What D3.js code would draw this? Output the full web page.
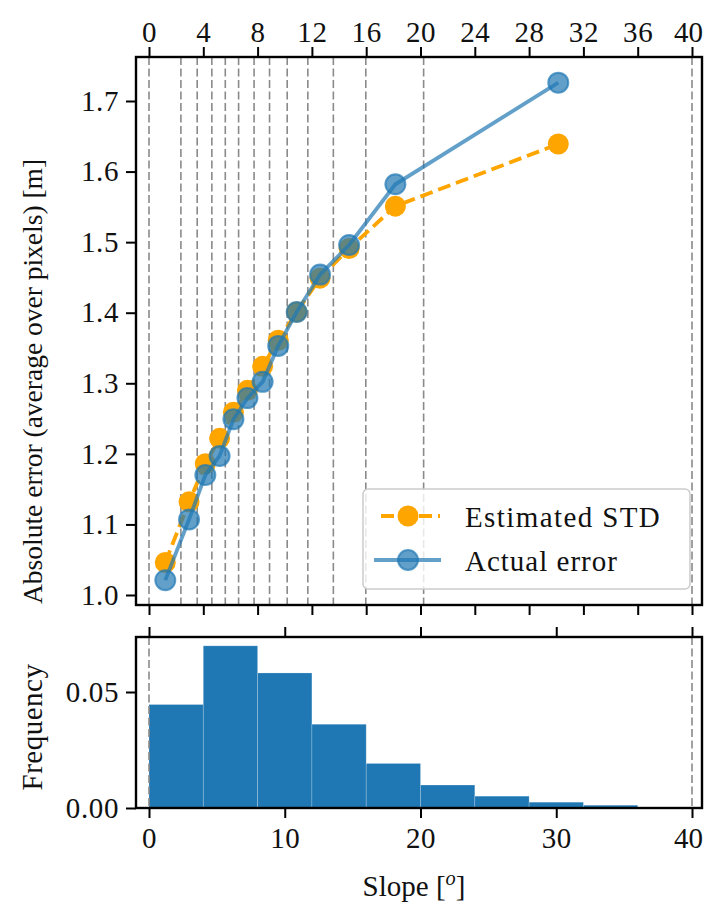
<!DOCTYPE html>
<html>
<head>
<meta charset="utf-8">
<script src="https://cdn.jsdelivr.net/npm/d3@7"></script>
<style>
  html, body { margin: 0; padding: 0; background: #fff; }
  svg { display: block; }
  text { font-family: "Liberation Serif", "DejaVu Serif", serif; fill: #111; }
</style>
</head>
<body>
<svg id="chart" width="705" height="907"></svg>
<script>
// ---------- DATA ----------
const slopeCenters  = [1.2, 2.95, 4.15, 5.2, 6.22, 7.25, 8.37, 9.52, 10.88, 12.6, 14.74, 18.15, 30.15];
const estimatedSTD  = [1.046, 1.132, 1.186, 1.222, 1.259, 1.290, 1.324, 1.361, 1.401, 1.449, 1.491, 1.551, 1.639];
const actualError   = [1.021, 1.107, 1.170, 1.197, 1.249, 1.279, 1.302, 1.353, 1.401, 1.454, 1.496, 1.582, 1.726];
const binEdges      = [0, 2.35, 3.55, 4.63, 5.62, 6.6, 7.74, 8.88, 10.18, 11.7, 13.58, 15.97, 20.23, 40];
const histEdges     = [0, 4, 8, 12, 16, 20, 24, 28, 32, 36, 40];
const histFreq      = [0.0446, 0.0699, 0.0582, 0.0361, 0.0192, 0.0099, 0.0051, 0.0025, 0.0012, 0.0002];
const topXTicks     = [0, 4, 8, 12, 16, 20, 24, 28, 32, 36, 40];
const topYTicks     = [1.0, 1.1, 1.2, 1.3, 1.4, 1.5, 1.6, 1.7];
const histXTicks    = [0, 10, 20, 30, 40];
const histYTicks    = [0.00, 0.05];
const seriesNames   = ["Estimated STD", "Actual error"];

// ---------- LAYOUT ----------
const svg = d3.select("#chart");
const FS = 29;
const frameL = 136, frameR = 702;
const topP = {t: 57, b: 605};
const histP = {t: 637, b: 808};

const x = d3.scaleLinear().domain([0, 40]).range([149, 692]);
const yTop = d3.scaleLinear().domain([1.0, 1.7]).range([595, 101]);
const yHist = d3.scaleLinear().domain([0, 0.05]).range([808, 692]);

const blue = "#1f77b4", orange = "#ffa500";

// ---------- TOP PANEL ----------
const gTop = svg.append("g");
svg.append("clipPath").attr("id", "clipTop")
  .append("rect").attr("x", frameL).attr("y", topP.t).attr("width", frameR - frameL).attr("height", topP.b - topP.t);

gTop.append("g").selectAll("line").data(binEdges).join("line")
  .attr("x1", d => x(d)).attr("x2", d => x(d))
  .attr("y1", topP.t).attr("y2", topP.b)
  .attr("stroke", "#8a8a8a").attr("stroke-width", 1.6)
  .attr("stroke-dasharray", "8,3.5");

const pts = (vals) => slopeCenters.map((s, i) => [x(s), yTop(vals[i])]);
const lineGen = d3.line();

const gData = gTop.append("g").attr("clip-path", "url(#clipTop)");
gData.append("path").attr("d", lineGen(pts(estimatedSTD)))
  .attr("fill", "none").attr("stroke", orange).attr("stroke-width", 3.8)
  .attr("stroke-dasharray", "13,6");
gData.append("g").selectAll("circle").data(pts(estimatedSTD)).join("circle")
  .attr("cx", d => d[0]).attr("cy", d => d[1]).attr("r", 10.5)
  .attr("fill", orange);
gData.append("path").attr("d", lineGen(pts(actualError)))
  .attr("fill", "none").attr("stroke", blue).attr("stroke-opacity", 0.7).attr("stroke-width", 3.8);
gData.append("g").selectAll("circle").data(pts(actualError)).join("circle")
  .attr("cx", d => d[0]).attr("cy", d => d[1]).attr("r", 10)
  .attr("fill", blue).attr("fill-opacity", 0.7)
  .attr("stroke", blue).attr("stroke-opacity", 0.7).attr("stroke-width", 2);

gTop.append("rect").attr("x", frameL).attr("y", topP.t).attr("width", frameR - frameL).attr("height", topP.b - topP.t)
  .attr("fill", "none").attr("stroke", "#000").attr("stroke-width", 2.4);

function styleAxis(g) {
  g.select(".domain").remove();
  g.selectAll(".tick line").attr("stroke", "#000").attr("stroke-width", 2);
  g.selectAll(".tick text").attr("font-size", FS).attr("letter-spacing", 0.6)
    .attr("font-family", '"Liberation Serif", serif').attr("fill", "#111");
  // keep the right-most label inside the page
  g.selectAll(".tick text").filter(d => d === 40).attr("dx", -4).attr("letter-spacing", 0);
}
const TL = 10;
gTop.append("g").attr("transform", `translate(0,${topP.t})`)
  .call(d3.axisTop(x).tickValues(topXTicks).tickSize(TL).tickPadding(5).tickFormat(d3.format("d")))
  .call(styleAxis);
gTop.append("g").attr("transform", `translate(0,${topP.b})`)
  .call(d3.axisBottom(x).tickValues(topXTicks).tickSize(TL).tickFormat(""))
  .call(styleAxis);
gTop.append("g").attr("transform", `translate(${frameL},0)`)
  .call(d3.axisLeft(yTop).tickValues(topYTicks).tickSize(TL).tickPadding(7).tickFormat(d3.format(".1f")))
  .call(styleAxis);

svg.append("text")
  .attr("transform", `translate(42,604) rotate(-90)`)
  .attr("text-anchor", "start").attr("font-size", 27.5)
  .text("Absolute error (average over pixels) [m]");

// legend
const lg = svg.append("g");
lg.append("rect").attr("x", 363).attr("y", 489).attr("width", 327).attr("height", 100).attr("rx", 5)
  .attr("fill", "#fff").attr("fill-opacity", 0.8).attr("stroke", "#cccccc").attr("stroke-width", 1.5);
lg.append("line").attr("x1", 377).attr("x2", 440).attr("y1", 516).attr("y2", 516)
  .attr("stroke", orange).attr("stroke-width", 3.8).attr("stroke-dasharray", "13,6").attr("stroke-dashoffset", -4);
lg.append("circle").attr("cx", 408).attr("cy", 516).attr("r", 10.5).attr("fill", orange);
lg.append("text").attr("x", 465).attr("y", 527).attr("font-size", FS).attr("letter-spacing", 1.4).text(seriesNames[0]);
lg.append("line").attr("x1", 374).attr("x2", 441).attr("y1", 560).attr("y2", 560)
  .attr("stroke", blue).attr("stroke-opacity", 0.7).attr("stroke-width", 3.8);
lg.append("circle").attr("cx", 408).attr("cy", 560).attr("r", 10)
  .attr("fill", blue).attr("fill-opacity", 0.7)
  .attr("stroke", blue).attr("stroke-opacity", 0.7).attr("stroke-width", 2);
lg.append("text").attr("x", 465).attr("y", 571).attr("font-size", FS).attr("letter-spacing", 1.0).text(seriesNames[1]);

// ---------- HISTOGRAM ----------
const gH = svg.append("g");
const bins = histFreq.map((f, i) => ({x0: histEdges[i], x1: histEdges[i + 1], f}));
gH.append("g").selectAll("rect").data(bins).join("rect")
  .attr("x", d => x(d.x0)).attr("width", d => x(d.x1) - x(d.x0))
  .attr("y", d => yHist(d.f)).attr("height", d => yHist(0) - yHist(d.f))
  .attr("fill", blue).attr("stroke", "#ffffff").attr("stroke-opacity", 0.25).attr("stroke-width", 0.8);

gH.append("g").selectAll("line").data([0, 40]).join("line")
  .attr("x1", d => x(d)).attr("x2", d => x(d))
  .attr("y1", histP.t).attr("y2", histP.b)
  .attr("stroke", "#8a8a8a").attr("stroke-width", 1.6)
  .attr("stroke-dasharray", "8,3.5");

gH.append("rect").attr("x", frameL).attr("y", histP.t).attr("width", frameR - frameL).attr("height", histP.b - histP.t)
  .attr("fill", "none").attr("stroke", "#000").attr("stroke-width", 2.4);

gH.append("g").attr("transform", `translate(0,${histP.t})`)
  .call(d3.axisTop(x).tickValues(histXTicks).tickSize(TL).tickFormat(""))
  .call(styleAxis);
gH.append("g").attr("transform", `translate(0,${histP.b})`)
  .call(d3.axisBottom(x).tickValues(histXTicks).tickSize(TL).tickPadding(9).tickFormat(d3.format("d")))
  .call(styleAxis);
gH.append("g").attr("transform", `translate(${frameL},0)`)
  .call(d3.axisLeft(yHist).tickValues(histYTicks).tickSize(TL).tickPadding(7).tickFormat(d3.format(".2f")))
  .call(styleAxis);

svg.append("text")
  .attr("transform", `translate(42,727) rotate(-90)`)
  .attr("text-anchor", "middle").attr("font-size", FS).attr("letter-spacing", 0.5)
  .text("Frequency");

const xl = svg.append("text").attr("x", 414).attr("y", 896)
  .attr("text-anchor", "middle").attr("font-size", FS);
xl.append("tspan").text("Slope [");
xl.append("tspan").attr("font-style", "italic").attr("font-size", FS * 0.7).attr("dy", -11).text("o");
xl.append("tspan").attr("dy", 11).text("]");
</script>
</body>
</html>
